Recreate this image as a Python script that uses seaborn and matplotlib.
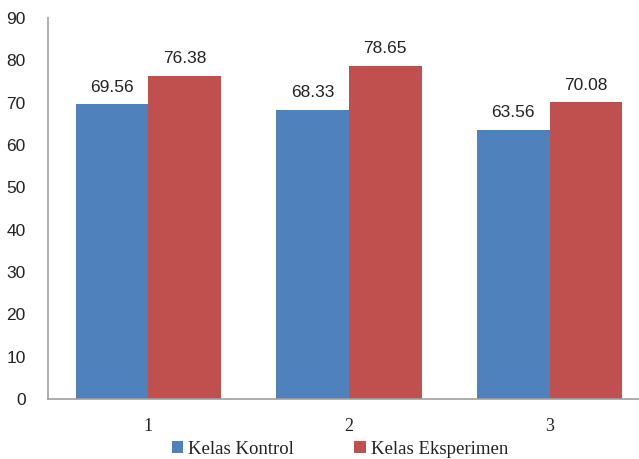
import pandas as pd
import seaborn as sns
import matplotlib.pyplot as plt

# data
groups = ['1', '2', '3']
kontrol = [69.56, 68.33, 63.56]
eksperimen = [76.38, 78.65, 70.08]
series = ['Kelas Kontrol', 'Kelas Eksperimen']
colors = ['#4F81BD', '#C0504D']

df = pd.DataFrame({
    'group': groups * 2,
    'value': kontrol + eksperimen,
    'kelas': [series[0]] * 3 + [series[1]] * 3,
})

sns.set_style('white')
fig = plt.figure(figsize=(6.39, 4.59), dpi=100)
ax = fig.add_axes([0.075, 0.131, 0.942, 0.830])

sns.barplot(data=df, x='group', y='value', hue='kelas', palette=colors,
            width=0.725, gap=0, saturation=1, ax=ax, errorbar=None,
            linewidth=0)

for cont in ax.containers:
    ax.bar_label(cont, fmt='%.2f', padding=7, fontsize=12.5,
                 family='Liberation Sans', color='#222222')

ax.set_ylim(0, 90)
ax.set_yticks(range(0, 91, 10))
ax.set_xlim(-0.5, 2.5)
ax.set_xlabel('')
ax.set_ylabel('')
for lab in ax.get_yticklabels():
    lab.set_family('Liberation Sans')
    lab.set_fontsize(12.5)
for lab in ax.get_xticklabels():
    lab.set_family('Liberation Serif')
    lab.set_fontsize(13)
ax.tick_params(axis='y', length=0, pad=16, colors='#222222')
ax.tick_params(axis='x', length=0, pad=14, colors='#222222')

sns.despine(ax=ax, top=True, right=True)
for s in ['left', 'bottom']:
    ax.spines[s].set_color('#A0A0A0')
    ax.spines[s].set_linewidth(1.2)

handles, labels = ax.get_legend_handles_labels()
leg = ax.legend(handles, labels, loc='center',
                bbox_to_anchor=(340 / 639, 10 / 459),
                bbox_transform=fig.transFigure, ncol=2, frameon=False,
                fontsize=13.5, handlelength=0.6, handleheight=0.6,
                handletextpad=0.3, columnspacing=3.2)
for t in leg.get_texts():
    t.set_family(['Liberation Serif', 'DejaVu Serif'])
    t.set_color('#222222')

fig.savefig('out.png', dpi=100)
